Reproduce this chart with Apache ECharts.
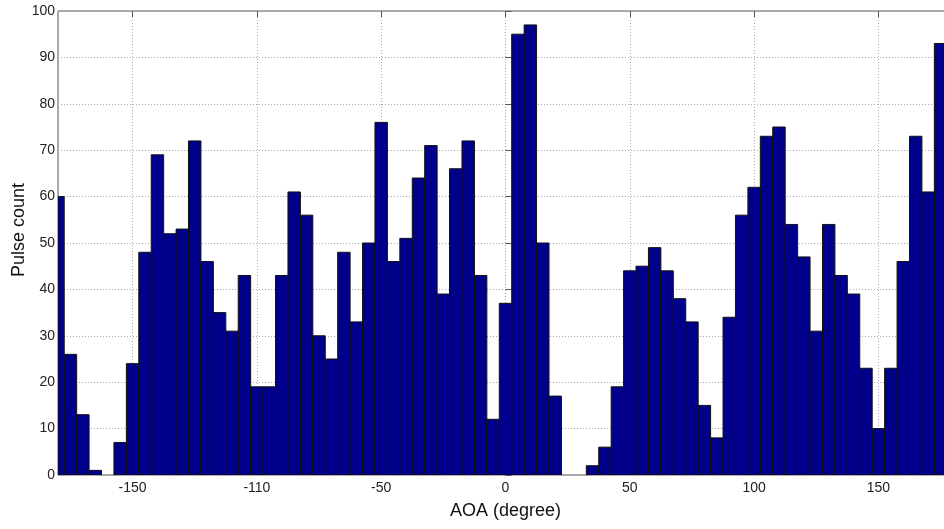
<!DOCTYPE html>
<html>
<head>
<meta charset="utf-8">
<script src="https://cdn.jsdelivr.net/npm/echarts@6/dist/echarts.min.js"></script>
<style>html,body{margin:0;padding:0;background:#fff;}#c{width:944px;height:529px;}</style>
</head>
<body>
<div id="c"></div>
<script>
// Bin centers (degrees), bin width 5
const binCenters = [-180,-175,-170,-165,-160,-155,-150,-145,-140,-135,-130,-125,-120,-115,-110,-105,-100,-95,-90,-85,-80,-75,-70,-65,-60,-55,-50,-45,-40,-35,-30,-25,-20,-15,-10,-5,0,5,10,15,20,25,30,35,40,45,50,55,60,65,70,75,80,85,90,95,100,105,110,115,120,125,130,135,140,145,150,155,160,165,170,175];
const pulseCounts = [60,26,13,1,0,7,24,48,69,52,53,72,46,35,31,43,19,19,43,61,56,30,25,48,33,50,76,46,51,64,71,39,66,72,43,12,37,95,97,50,17,0,0,2,6,19,44,45,49,44,38,33,15,8,34,56,62,73,75,54,47,31,54,43,39,23,10,23,46,73,61,93];
const binWidth = 5;
const xTickValues = [-150,-100,-50,0,50,100,150];
const xTickLabels = ["-150","-110","-50","0","50","100","150"];

const chart = echarts.init(document.getElementById('c'));
const font = 'Liberation Sans, Arial, sans-serif';
const data = binCenters.map((c, i) => [c, pulseCounts[i]]);

chart.setOption({
  animation: false,
  backgroundColor: '#fff',
  grid: { left: 58, top: 11, right: -9, bottom: 54, containLabel: false, outerBoundsMode: 'none',
          show: true, borderColor: '#555', borderWidth: 1, backgroundColor: 'transparent' },
  xAxis: [{
    type: 'value', min: -180, max: 180,
    axisLine: { show: false },
    axisTick: { show: true, inside: true, length: 6, lineStyle: { color: '#555' }, customValues: xTickValues },
    axisLabel: {
      customValues: xTickValues,
      color: '#222', fontSize: 14, fontFamily: font, margin: 6,
      formatter: v => { const k = xTickValues.indexOf(v); return k >= 0 ? xTickLabels[k] : ''; }
    },
    splitLine: { show: true, lineStyle: { color: '#aaa', type: [1, 2], width: 1 } },
    name: 'AOA (degree)', nameLocation: 'middle', nameGap: 27, nameMoveOverlap: false,
    nameTextStyle: { fontSize: 18, fontFamily: font, color: '#111' }
  }, {
    type: 'value', position: 'top', min: -180, max: 180,
    axisLine: { show: false },
    axisTick: { show: true, inside: true, length: 6, lineStyle: { color: '#555' }, customValues: xTickValues },
    axisLabel: { show: false, customValues: xTickValues },
    splitLine: { show: false }
  }],
  yAxis: {
    type: 'value', min: 0, max: 100, interval: 10,
    axisLine: { show: false },
    axisTick: { show: true, inside: true, length: 6, lineStyle: { color: '#555' } },
    axisLabel: { color: '#222', fontSize: 14, fontFamily: font, margin: 3 },
    splitLine: { show: true, lineStyle: { color: '#aaa', type: [1, 2], width: 1 } },
    name: 'Pulse count', nameLocation: 'middle', nameGap: 30, nameRotate: 90, nameMoveOverlap: false,
    nameTextStyle: { fontSize: 18, fontFamily: font, color: '#111', padding: [0, 0, 0, 26] }
  },
  series: [{
    type: 'custom',
    clip: true,
    data: data,
    encode: { x: 0, y: 1 },
    renderItem: function (params, api) {
      const c = api.value(0), v = api.value(1);
      if (!v) return null;
      const p0 = api.coord([c - binWidth / 2, v]);
      const p1 = api.coord([c + binWidth / 2, 0]);
      const rect = { x: p0[0], y: p0[1], width: p1[0] - p0[0], height: p1[1] - p0[1] };
      const clipped = echarts.graphic.clipRectByRect(rect, {
        x: params.coordSys.x, y: params.coordSys.y, width: params.coordSys.width, height: params.coordSys.height
      });
      if (!clipped) return null;
      return { type: 'rect', shape: clipped, style: { fill: '#00008b', stroke: '#111', lineWidth: 1 } };
    }
  }]
});
</script>
</body>
</html>
